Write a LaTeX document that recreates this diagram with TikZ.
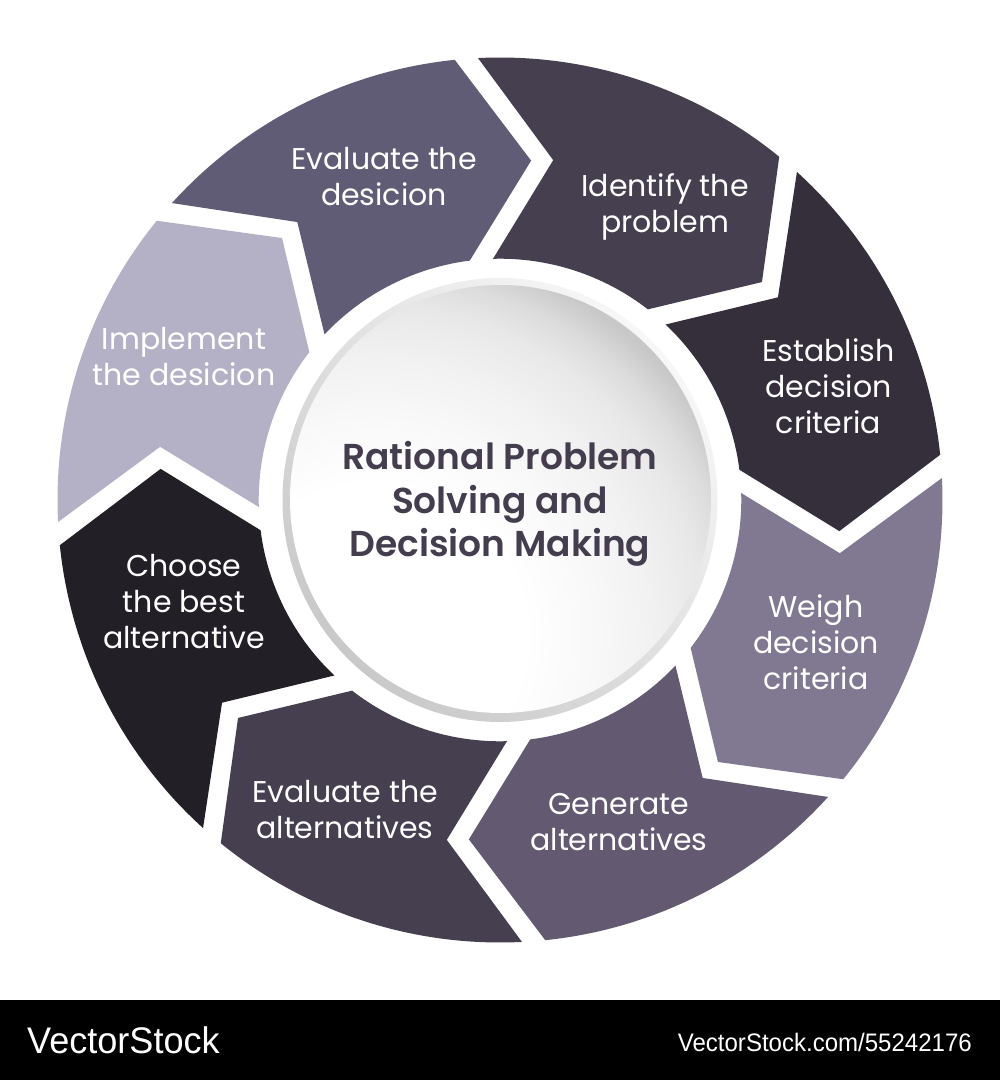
\documentclass[tikz,border=0pt]{standalone}
\usepackage{fontspec}
\newfontfamily\lab{Poppins}
\newfontfamily\ttl{Poppins}[UprightFont=* SemiBold]
\newfontfamily\wm{Liberation Sans}
\definecolor{cA}{HTML}{463F50}
\definecolor{cB}{HTML}{352F3C}
\definecolor{cC}{HTML}{817892}
\definecolor{cD}{HTML}{635A72}
\definecolor{cE}{HTML}{463F50}
\definecolor{cF}{HTML}{231F27}
\definecolor{cG}{HTML}{B4B1C6}
\definecolor{cH}{HTML}{615C75}
\definecolor{cT}{HTML}{433D4E}
\definecolor{dA}{HTML}{FFFFFF}
\definecolor{dB}{HTML}{FCFCFC}
\definecolor{dC}{HTML}{F8F8F8}
\definecolor{dD}{HTML}{F1F1F1}
\definecolor{dE}{HTML}{E8E8E8}
\definecolor{dF}{HTML}{DCDCDC}
\definecolor{dG}{HTML}{C8C8C8}
\definecolor{rT}{HTML}{F7F7F7}
\definecolor{rB}{HTML}{C9C9C9}
\pgfdeclareradialshading{diskshade}{\pgfpointorigin}{color(0bp)=(dA); color(9.4bp)=(dA); color(11.25bp)=(dB); color(13.9bp)=(dC); color(17.4bp)=(dD); color(20.5bp)=(dE); color(22.5bp)=(dF); color(24.5bp)=(dG); color(50bp)=(dG)}
\tikzset{
  x=1pt,y=1pt,
  lbl/.style={text=white,align=center,font=\lab\fontsize{30}{36}\selectfont,inner sep=0pt},
  title/.style={text=cT,align=center,font=\ttl\fontsize{36}{43.5}\selectfont,inner sep=0pt},
}
\begin{document}
\begin{tikzpicture}
\useasboundingbox (-500,-580) rectangle (500,500);
\fill[white] (-500,-580) rectangle (500,500);
\fill[black] (-500,-500) rectangle (500,-580);
\foreach \i/\c in {0/cA,1/cB,2/cC,3/cD,4/cE,5/cF,6/cG,7/cH}{
  \pgfmathsetmacro{\r}{-45*\i}
  \fill[\c] (\r+92.85:442.5)
    arc[start angle=\r+92.85,end angle=\r+50.87,radius=442.5]
    -- (\r+39.76:340.8) -- (\r+52.2:241.3)
    arc[start angle=\r+52.2,end angle=\r+91.66,radius=241.3]
    -- (\r+81.1:344) -- cycle;
}
\shade[top color=rT,bottom color=rB,shading angle=-45] (0,0) ellipse[x radius=217.5,y radius=222];
\begin{scope}
\clip (0.5,1) ellipse[x radius=210.5,y radius=214];
\shade[shading=diskshade] (-125,-135) circle[radius=400];
\end{scope}
\node[title] (center) at (0,-4) {Rational Problem\\Solving and\\Decision Making};
\node[lbl] (s1) at (165,293) {Identify the\\problem};
\node[lbl] (s2) at (328.5,114) {Establish\\decision\\criteria};
\node[lbl] (s3) at (316,-142) {Weigh\\decision\\criteria};
\node[lbl] (s4) at (119,-322) {Generate\\alternatives};
\node[lbl] (s5) at (-155,-310) {Evaluate the\\alternatives};
\node[lbl] (s6) at (-316,-102) {Choose\\the best\\alternative};
\node[lbl] (s7) at (-316,143.5) {Implement\\the desicion};
\node[lbl] (s8) at (-116,323) {Evaluate the\\desicion};
\node[text=white,font=\wm\fontsize{37}{37}\selectfont,inner sep=0pt,anchor=west,xscale=0.975] (logo) at (-473,-540) {VectorStock};
\node[text=white,font=\wm\fontsize{25.3}{25.3}\selectfont,inner sep=0pt,anchor=east,xscale=0.95] (url) at (472,-542) {VectorStock.com/55242176};
\end{tikzpicture}
\end{document}
